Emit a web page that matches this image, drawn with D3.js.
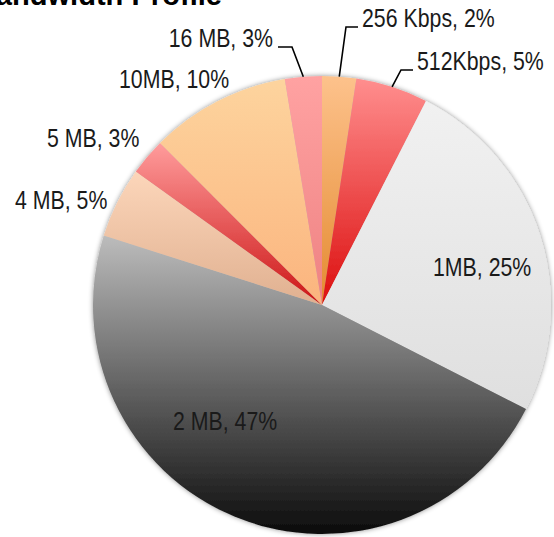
<!DOCTYPE html>
<html>
<head>
<meta charset="utf-8">
<script src="https://cdn.jsdelivr.net/npm/d3@7"></script>
<style>
  html, body { margin: 0; padding: 0; background: #fff; }
  svg { display: block; }
  text { font-family: "Liberation Sans", Arial, sans-serif; fill: #1a1a1a; }
</style>
</head>
<body>
<svg id="chart" width="554" height="537"></svg>
<script>
// ---- data ----
const categories = ["256 Kbps", "512Kbps", "1MB", "2 MB", "4 MB", "5 MB", "10MB", "16 MB"];
const values     = [2.4, 5.1, 25.0, 47.4, 5.0, 2.6, 9.9, 2.6];
const title = "Bandwidth Profile";

// ---- styles ----
const gradTop    = ["#fdc28c", "#ff8e8e", "#f1f1f1", "#bcbcbc", "#fcd6ba", "#ff9c9c", "#fdd49e", "#ffa2a2"];
const gradBottom = ["#e48a30", "#dc0e0e", "#dfdfdf", "#0c0c0c", "#e0b090", "#cc1515", "#fbb47e", "#ee8282"];
// label layout: [x, y(baseline), anchor, leader?]
const labelLayout = [
  [362, 27, "start", true],
  [417, 70, "start", true],
  [433, 276, "start", false],
  [173, 430, "start", false],
  [15, 209, "start", false],
  [47, 147, "start", false],
  [119, 88, "start", false],
  [273, 47, "end", true]
];

const W = 554, H = 537;
const cx = 322, cy = 305, R = 229;
const svg = d3.select("#chart");
const defs = svg.append("defs");

const f = defs.append("filter").attr("id", "shadow")
  .attr("x", "-10%").attr("y", "-10%").attr("width", "120%").attr("height", "120%");
f.append("feDropShadow").attr("dx", 0).attr("dy", 0)
  .attr("stdDeviation", 2.5).attr("flood-color", "#000").attr("flood-opacity", 0.45);

categories.forEach((c, i) => {
  const g = defs.append("linearGradient").attr("id", "g" + i)
    .attr("x1", 0).attr("y1", 0).attr("x2", 0).attr("y2", 1);
  g.append("stop").attr("offset", "0%").attr("stop-color", gradTop[i]);
  g.append("stop").attr("offset", "100%").attr("stop-color", gradBottom[i]);
});

const total = d3.sum(values);
const pie = d3.pie().sort(null).value(d => d).startAngle(0).endAngle(2 * Math.PI);
const arcs = pie(values);
const arc = d3.arc().innerRadius(0).outerRadius(R);
const rimArc = d3.arc().innerRadius(R).outerRadius(R);

const gPie = svg.append("g").attr("transform", `translate(${cx},${cy})`).attr("filter", "url(#shadow)");
gPie.selectAll("path").data(arcs).enter().append("path")
  .attr("d", arc)
  .attr("fill", (d, i) => `url(#g${i})`);

// title (clipped at top-left as in the reference)
svg.append("text")
  .attr("transform", `translate(222,5) scale(0.97,1)`)
  .attr("text-anchor", "end")
  .style("font-weight", "bold")
  .style("font-size", "30px")
  .style("fill", "#000")
  .text(title);

// leaders + labels
const gLab = svg.append("g");
arcs.forEach((d, i) => {
  const [lx, ly, anchor, leader] = labelLayout[i];
  const pct = Math.round(d.data / total * 100);
  const txt = `${categories[i]}, ${pct}%`;
  if (leader) {
    const p = rimArc.centroid(d);
    const px = cx + p[0], py = cy + p[1];
    const endX = anchor === "start" ? lx - 4 : lx + 5;
    const elbowX = anchor === "start" ? endX - 12 : endX + 14;
    gLab.append("path")
      .attr("d", `M${px},${py}L${elbowX},${ly}L${endX},${ly}`)
      .attr("fill", "none").attr("stroke", "#000").attr("stroke-width", 1.6);
  }
  gLab.append("text")
    .attr("transform", `translate(${lx},${ly}) scale(0.82,1)`)
    .attr("text-anchor", anchor)
    .style("font-size", "26px")
    .text(txt);
});
</script>
</body>
</html>
